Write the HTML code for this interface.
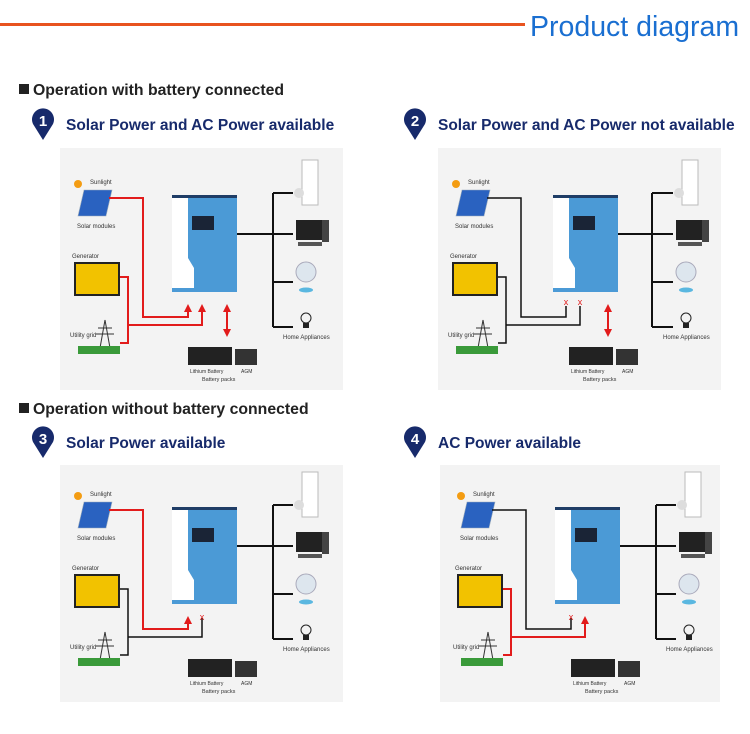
<!DOCTYPE html>
<html><head><meta charset="utf-8"><style>
body{margin:0;width:750px;height:729px;background:#fff;overflow:hidden;font-family:"Liberation Sans",sans-serif}
</style></head><body>
<svg width="750" height="729" xmlns="http://www.w3.org/2000/svg" font-family="Liberation Sans, sans-serif">
<defs>
<marker id="ar" viewBox="0 0 10 10" refX="5" refY="5" markerWidth="4" markerHeight="4" orient="auto-start-reverse"><path d="M0,0L10,5L0,10z" fill="#e21b1b"/></marker>
</defs>
<rect x="0" y="23" width="525" height="3" fill="#e8531f"/>
<text x="530" y="36" font-size="28.5" fill="#1a6fd1">Product diagram</text>
<rect x="19" y="84" width="10" height="10" fill="#222"/>
<text x="33" y="95" font-size="15.8" font-weight="bold" fill="#222">Operation with battery connected</text>
<rect x="19" y="403" width="10" height="10" fill="#222"/>
<text x="33" y="414" font-size="15.8" font-weight="bold" fill="#222">Operation without battery connected</text>

<g fill="#172a6b">
<path d="M43,140 L33,124 A11,11 0 1 1 53,124 Z"/><path d="M415,140 L405,124 A11,11 0 1 1 425,124 Z"/>
<path d="M43,458 L33,442 A11,11 0 1 1 53,442 Z"/><path d="M415,458 L405,442 A11,11 0 1 1 425,442 Z"/>
</g>
<g fill="#fff" font-size="15" font-weight="bold" text-anchor="middle">
<text x="43" y="126">1</text><text x="415" y="126">2</text><text x="43" y="444">3</text><text x="415" y="444">4</text>
</g>
<g fill="#172a6b" font-size="15.5" font-weight="bold">
<text x="66" y="130">Solar Power and AC Power available</text>
<text x="438" y="130">Solar Power and AC Power not available</text>
<text x="66" y="448">Solar Power available</text>
<text x="438" y="448">AC Power available</text>
</g>

<!-- PANEL 1 -->
<g transform="translate(60,148)">
<rect x="0" y="0" width="283" height="242" fill="#f3f3f3"/>
<circle cx="18" cy="36" r="4" fill="#f39c12"/><text x="30" y="36" font-size="6" fill="#333">Sunlight</text>
<polygon points="24,42 52,42 46,68 18,68" fill="#2a62c0" stroke="#9ab" stroke-width="0.6"/>
<text x="17" y="80" font-size="6" fill="#333">Solar modules</text>
<text x="12" y="110" font-size="6" fill="#333">Generator</text>
<rect x="15" y="115" width="44" height="32" fill="#f2c200" stroke="#222" stroke-width="2"/>
<text x="10" y="189" font-size="6" fill="#333">Utility grid</text>
<path d="M45,172 L40,200 M45,172 L50,200 M38,180 L52,180 M36,186 L54,186" stroke="#333" stroke-width="1" fill="none"/>
<rect x="18" y="198" width="42" height="8" fill="#3a9a3a"/>
<rect x="112" y="47" width="65" height="97" fill="#4b9ad6"/>
<path d="M112,47 L128,47 L128,110 L134,120 L134,140 L112,140Z" fill="#fff"/>
<rect x="112" y="47" width="65" height="3" fill="#1f3d66"/>
<rect x="132" y="68" width="22" height="14" fill="#1a2436"/>
<rect x="128" y="199" width="44" height="18" fill="#222"/><rect x="175" y="201" width="22" height="16" fill="#333"/>
<text x="130" y="225" font-size="5" fill="#333">Lithium Battery</text><text x="181" y="225" font-size="5" fill="#333">AGM</text>
<text x="142" y="233" font-size="5.5" fill="#333">Battery packs</text>
<path d="M177,86 H233 M213,45 V179 M213,45 H233 M213,134 H233 M213,179 H233" stroke="#111" stroke-width="2" fill="none"/>
<rect x="242" y="12" width="16" height="45" fill="#fff" stroke="#bbb"/><circle cx="239" cy="45" r="5" fill="#ddd"/>
<rect x="236" y="72" width="26" height="20" fill="#222"/><rect x="262" y="72" width="7" height="22" fill="#444"/><rect x="238" y="94" width="24" height="4" fill="#555"/>
<circle cx="246" cy="124" r="10" fill="#dde6ee" stroke="#aab"/><ellipse cx="246" cy="142" rx="7" ry="2.5" fill="#5ab7e0"/>
<circle cx="246" cy="170" r="5" fill="none" stroke="#222"/><rect x="243" y="175" width="6" height="5" fill="#222"/>
<text x="223" y="191" font-size="6" fill="#333">Home Appliances</text>
<path d="M49,50 H83 V169 H128 V160" stroke="#e21b1b" stroke-width="2" fill="none" marker-end="url(#ar)"/>
<path d="M60,129 H68 V195 H60 M68,177 H142 V160" stroke="#e21b1b" stroke-width="2" fill="none" marker-end="url(#ar)"/>
<path d="M167,160 V185" stroke="#e21b1b" stroke-width="2" fill="none" marker-start="url(#ar)" marker-end="url(#ar)"/>
</g>

<!-- PANEL 2 -->
<g transform="translate(438,148)">
<rect x="0" y="0" width="283" height="242" fill="#f3f3f3"/>
<circle cx="18" cy="36" r="4" fill="#f39c12"/><text x="30" y="36" font-size="6" fill="#333">Sunlight</text>
<polygon points="24,42 52,42 46,68 18,68" fill="#2a62c0" stroke="#9ab" stroke-width="0.6"/>
<text x="17" y="80" font-size="6" fill="#333">Solar modules</text>
<text x="12" y="110" font-size="6" fill="#333">Generator</text>
<rect x="15" y="115" width="44" height="32" fill="#f2c200" stroke="#222" stroke-width="2"/>
<text x="10" y="189" font-size="6" fill="#333">Utility grid</text>
<path d="M45,172 L40,200 M45,172 L50,200 M38,180 L52,180 M36,186 L54,186" stroke="#333" stroke-width="1" fill="none"/>
<rect x="18" y="198" width="42" height="8" fill="#3a9a3a"/>
<rect x="115" y="47" width="65" height="97" fill="#4b9ad6"/>
<path d="M115,47 L131,47 L131,110 L137,120 L137,140 L115,140Z" fill="#fff"/>
<rect x="115" y="47" width="65" height="3" fill="#1f3d66"/>
<rect x="135" y="68" width="22" height="14" fill="#1a2436"/>
<rect x="131" y="199" width="44" height="18" fill="#222"/><rect x="178" y="201" width="22" height="16" fill="#333"/>
<text x="133" y="225" font-size="5" fill="#333">Lithium Battery</text><text x="184" y="225" font-size="5" fill="#333">AGM</text>
<text x="145" y="233" font-size="5.5" fill="#333">Battery packs</text>
<path d="M180,86 H235 M214,45 V179 M214,45 H235 M214,134 H235 M214,179 H235" stroke="#111" stroke-width="2" fill="none"/>
<rect x="244" y="12" width="16" height="45" fill="#fff" stroke="#bbb"/><circle cx="241" cy="45" r="5" fill="#ddd"/>
<rect x="238" y="72" width="26" height="20" fill="#222"/><rect x="264" y="72" width="7" height="22" fill="#444"/><rect x="240" y="94" width="24" height="4" fill="#555"/>
<circle cx="248" cy="124" r="10" fill="#dde6ee" stroke="#aab"/><ellipse cx="248" cy="142" rx="7" ry="2.5" fill="#5ab7e0"/>
<circle cx="248" cy="170" r="5" fill="none" stroke="#222"/><rect x="245" y="175" width="6" height="5" fill="#222"/>
<text x="225" y="191" font-size="6" fill="#333">Home Appliances</text>
<path d="M49,50 H83 V169 H128 V158" stroke="#111" stroke-width="1.5" fill="none"/>
<path d="M60,129 H68 V195 H60 M68,177 H142 V158" stroke="#111" stroke-width="1.5" fill="none"/>
<text x="128" y="157" font-size="9" fill="#e21b1b" text-anchor="middle">x</text>
<text x="142" y="157" font-size="9" fill="#e21b1b" text-anchor="middle">x</text>
<path d="M170,160 V185" stroke="#e21b1b" stroke-width="2" fill="none" marker-start="url(#ar)" marker-end="url(#ar)"/>
</g>

<!-- PANEL 3 -->
<g transform="translate(60,460)">
<rect x="0" y="5" width="283" height="237" fill="#f3f3f3"/>
<circle cx="18" cy="36" r="4" fill="#f39c12"/><text x="30" y="36" font-size="6" fill="#333">Sunlight</text>
<polygon points="24,42 52,42 46,68 18,68" fill="#2a62c0" stroke="#9ab" stroke-width="0.6"/>
<text x="17" y="80" font-size="6" fill="#333">Solar modules</text>
<text x="12" y="110" font-size="6" fill="#333">Generator</text>
<rect x="15" y="115" width="44" height="32" fill="#f2c200" stroke="#222" stroke-width="2"/>
<text x="10" y="189" font-size="6" fill="#333">Utility grid</text>
<path d="M45,172 L40,200 M45,172 L50,200 M38,180 L52,180 M36,186 L54,186" stroke="#333" stroke-width="1" fill="none"/>
<rect x="18" y="198" width="42" height="8" fill="#3a9a3a"/>
<rect x="112" y="47" width="65" height="97" fill="#4b9ad6"/>
<path d="M112,47 L128,47 L128,110 L134,120 L134,140 L112,140Z" fill="#fff"/>
<rect x="112" y="47" width="65" height="3" fill="#1f3d66"/>
<rect x="132" y="68" width="22" height="14" fill="#1a2436"/>
<rect x="128" y="199" width="44" height="18" fill="#222"/><rect x="175" y="201" width="22" height="16" fill="#333"/>
<text x="130" y="225" font-size="5" fill="#333">Lithium Battery</text><text x="181" y="225" font-size="5" fill="#333">AGM</text>
<text x="142" y="233" font-size="5.5" fill="#333">Battery packs</text>
<path d="M177,86 H233 M213,45 V179 M213,45 H233 M213,134 H233 M213,179 H233" stroke="#111" stroke-width="2" fill="none"/>
<rect x="242" y="12" width="16" height="45" fill="#fff" stroke="#bbb"/><circle cx="239" cy="45" r="5" fill="#ddd"/>
<rect x="236" y="72" width="26" height="20" fill="#222"/><rect x="262" y="72" width="7" height="22" fill="#444"/><rect x="238" y="94" width="24" height="4" fill="#555"/>
<circle cx="246" cy="124" r="10" fill="#dde6ee" stroke="#aab"/><ellipse cx="246" cy="142" rx="7" ry="2.5" fill="#5ab7e0"/>
<circle cx="246" cy="170" r="5" fill="none" stroke="#222"/><rect x="243" y="175" width="6" height="5" fill="#222"/>
<text x="223" y="191" font-size="6" fill="#333">Home Appliances</text>
<path d="M49,50 H83 V169 H128 V160" stroke="#e21b1b" stroke-width="2" fill="none" marker-end="url(#ar)"/>
<path d="M60,129 H68 V195 H60 M68,177 H142 V158" stroke="#111" stroke-width="1.5" fill="none"/>
<text x="142" y="160" font-size="9" fill="#e21b1b" text-anchor="middle">x</text>
</g>

<!-- PANEL 4 -->
<g transform="translate(443,460)">
<rect x="-3" y="5" width="280" height="237" fill="#f3f3f3"/>
<circle cx="18" cy="36" r="4" fill="#f39c12"/><text x="30" y="36" font-size="6" fill="#333">Sunlight</text>
<polygon points="24,42 52,42 46,68 18,68" fill="#2a62c0" stroke="#9ab" stroke-width="0.6"/>
<text x="17" y="80" font-size="6" fill="#333">Solar modules</text>
<text x="12" y="110" font-size="6" fill="#333">Generator</text>
<rect x="15" y="115" width="44" height="32" fill="#f2c200" stroke="#222" stroke-width="2"/>
<text x="10" y="189" font-size="6" fill="#333">Utility grid</text>
<path d="M45,172 L40,200 M45,172 L50,200 M38,180 L52,180 M36,186 L54,186" stroke="#333" stroke-width="1" fill="none"/>
<rect x="18" y="198" width="42" height="8" fill="#3a9a3a"/>
<rect x="112" y="47" width="65" height="97" fill="#4b9ad6"/>
<path d="M112,47 L128,47 L128,110 L134,120 L134,140 L112,140Z" fill="#fff"/>
<rect x="112" y="47" width="65" height="3" fill="#1f3d66"/>
<rect x="132" y="68" width="22" height="14" fill="#1a2436"/>
<rect x="128" y="199" width="44" height="18" fill="#222"/><rect x="175" y="201" width="22" height="16" fill="#333"/>
<text x="130" y="225" font-size="5" fill="#333">Lithium Battery</text><text x="181" y="225" font-size="5" fill="#333">AGM</text>
<text x="142" y="233" font-size="5.5" fill="#333">Battery packs</text>
<path d="M177,86 H233 M213,45 V179 M213,45 H233 M213,134 H233 M213,179 H233" stroke="#111" stroke-width="2" fill="none"/>
<rect x="242" y="12" width="16" height="45" fill="#fff" stroke="#bbb"/><circle cx="239" cy="45" r="5" fill="#ddd"/>
<rect x="236" y="72" width="26" height="20" fill="#222"/><rect x="262" y="72" width="7" height="22" fill="#444"/><rect x="238" y="94" width="24" height="4" fill="#555"/>
<circle cx="246" cy="124" r="10" fill="#dde6ee" stroke="#aab"/><ellipse cx="246" cy="142" rx="7" ry="2.5" fill="#5ab7e0"/>
<circle cx="246" cy="170" r="5" fill="none" stroke="#222"/><rect x="243" y="175" width="6" height="5" fill="#222"/>
<text x="223" y="191" font-size="6" fill="#333">Home Appliances</text>
<path d="M49,50 H83 V169 H128 V158" stroke="#111" stroke-width="1.5" fill="none"/>
<text x="128" y="160" font-size="9" fill="#e21b1b" text-anchor="middle">x</text>
<path d="M60,129 H68 V195 H60 M68,177 H142 V160" stroke="#e21b1b" stroke-width="2" fill="none" marker-end="url(#ar)"/>
</g>
</svg>
</body></html>
